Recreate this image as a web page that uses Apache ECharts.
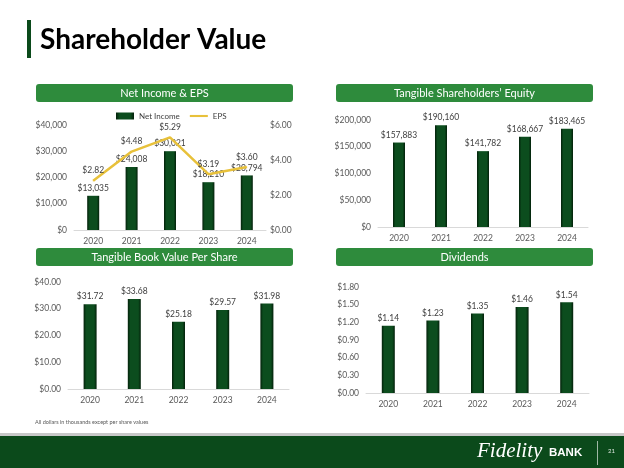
<!DOCTYPE html>
<html>
<head>
<meta charset="utf-8">
<script src="https://cdn.jsdelivr.net/npm/echarts@6.0.0/dist/echarts.min.js"></script>
<style>
html, body { margin: 0; padding: 0; background: #fff; }
#chart { width: 624px; height: 468px; }
</style>
</head>
<body>
<div id="chart"></div>
<script>
"use strict";
const years = ["2020", "2021", "2022", "2023", "2024"];
const netIncome = [13035, 24008, 30021, 18210, 20794];
const eps = [2.82, 4.48, 5.29, 3.19, 3.60];
const equity = [157883, 190160, 141782, 168667, 183465];
const tbvps = [31.72, 33.68, 25.18, 29.57, 31.98];
const dividends = [1.14, 1.23, 1.35, 1.46, 1.54];

const FONT = "Lato, 'Open Sans', sans-serif";
const headerGreen = "#2e8b3c";
const labelGrey = "#595959";
const money0 = (v) => "$" + Math.round(v).toLocaleString("en-US");
const money2 = (v) => "$" + Number(v).toFixed(2);

const barFill = {
    type: "linear", x: 0, y: 0, x2: 1, y2: 0,
    colorStops: [
        { offset: 0, color: "#03200a" },
        { offset: 0.2, color: "#0c4d1e" },
        { offset: 0.8, color: "#0c4d1e" },
        { offset: 1, color: "#03200a" },
    ],
};

const grids = [
    { left: 74, top: 125, width: 192, height: 105 },
    { left: 378, top: 120, width: 210, height: 107 },
    { left: 68, top: 282, width: 221, height: 107 },
    { left: 366, top: 287, width: 223, height: 106 },
];

const xAxes = grids.map((g, i) => ({
    type: "category",
    gridIndex: i,
    data: years,
    axisLine: { lineStyle: { color: "#d9d9d9", width: 1 } },
    axisTick: { show: false },
    axisLabel: { color: labelGrey, fontSize: 8.5, fontFamily: FONT, margin: 7 },
}));

const yBase = (i, max, interval, fmt, pos) => ({
    type: "value",
    gridIndex: i,
    min: 0,
    max,
    interval,
    position: pos || "left",
    splitLine: { show: false },
    axisLine: { show: false },
    axisTick: { show: false },
    axisLabel: { color: labelGrey, fontSize: 8.5, fontFamily: FONT, formatter: fmt, margin: pos === "right" ? 4 : 7 },
});

const yAxes = [
    yBase(0, 40000, 10000, money0),
    yBase(0, 6, 2, money2, "right"),
    yBase(1, 200000, 50000, money0),
    yBase(2, 40, 10, money2),
    yBase(3, 1.8, 0.3, money2),
];

const barSeries = (name, data, xi, yi, fmt, width) => ({
    name,
    type: "bar",
    xAxisIndex: xi,
    yAxisIndex: yi,
    data,
    barWidth: width,
    itemStyle: { color: barFill },
    label: {
        show: true,
        position: "top",
        distance: 3,
        color: "#404040",
        fontSize: 8.5,
        fontFamily: FONT,
        formatter: (p) => fmt(p.value),
    },
    z: 2,
});

const header = (x, y, w, text) => [
    { type: "rect", shape: { x, y, width: w, height: 18, r: 3 }, style: { fill: headerGreen } },
    {
        type: "text",
        x: x + w / 2,
        y: y + 9,
        style: { text, fill: "#fff", fontSize: 11, fontFamily: FONT, align: "center", verticalAlign: "middle" },
    },
];

const chart = echarts.init(document.getElementById("chart"), null, { renderer: "canvas" });
chart.setOption({
    animation: false,
    textStyle: { fontFamily: FONT },
    grid: grids,
    xAxis: xAxes,
    yAxis: yAxes,
    legend: {
        left: 111,
        top: 107,
        itemWidth: 18,
        itemHeight: 7,
        itemGap: 10,
        textStyle: { color: "#404040", fontSize: 8, fontFamily: FONT },
        data: [
            { name: "Net Income", icon: "rect" },
            { name: "EPS", icon: "path://M0,0 L30,0 L30,3.5 L0,3.5 Z" },
        ],
    },
    series: [
        barSeries("Net Income", netIncome, 0, 0, money0, 12),
        {
            name: "EPS",
            type: "line",
            xAxisIndex: 0,
            yAxisIndex: 1,
            data: eps,
            symbol: "circle",
            symbolSize: 1,
            showSymbol: true,
            lineStyle: { color: "#e8c13a", width: 2.5 },
            itemStyle: { color: "#e8c13a" },
            label: {
                show: true,
                position: "top",
                distance: 5,
                color: "#404040",
                fontSize: 8.5,
                fontFamily: FONT,
                formatter: (p) => money2(p.value),
            },
            z: 3,
        },
        barSeries("Equity", equity, 1, 2, money0, 12),
        barSeries("TBVPS", tbvps, 2, 3, money2, 13),
        barSeries("Dividends", dividends, 3, 4, money2, 13),
    ],
    graphic: [
        { type: "rect", shape: { x: 27, y: 20, width: 4, height: 38 }, style: { fill: "#0b4a1b" } },
        {
            type: "text",
            x: 40,
            y: 40,
            style: { text: "Shareholder Value", fill: "#000", fontSize: 28, fontWeight: "bold", fontFamily: FONT, verticalAlign: "middle" },
        },
        ...header(36, 84, 257, "Net Income & EPS"),
        ...header(336, 84, 257, "Tangible Shareholders\u2019 Equity"),
        ...header(36, 248, 257, "Tangible Book Value Per Share"),
        ...header(336, 248, 257, "Dividends"),
        {
            type: "text",
            x: 35,
            y: 422,
            style: { text: "All dollars in thousands except per share values", fill: "#595959", fontSize: 5.5, fontFamily: FONT, verticalAlign: "middle" },
        },
        { type: "rect", shape: { x: 0, y: 433, width: 624, height: 3 }, style: { fill: "#c8c8c8" } },
        { type: "rect", shape: { x: 0, y: 436, width: 624, height: 32 }, style: { fill: "#0b4a1b" } },
        {
            type: "text",
            x: 477,
            y: 451,
            style: { text: "Fidelity", fill: "#fff", fontSize: 21, fontStyle: "italic", fontFamily: "'Liberation Serif', serif", verticalAlign: "middle" },
        },
        {
            type: "text",
            x: 549,
            y: 453,
            style: { text: "BANK", fill: "#fff", fontSize: 11.5, fontWeight: "bold", fontFamily: "'Liberation Sans', sans-serif", verticalAlign: "middle" },
        },
        { type: "rect", shape: { x: 597, y: 441, width: 1, height: 24 }, style: { fill: "#9fb8a5" } },
        {
            type: "text",
            x: 608,
            y: 451,
            style: { text: "21", fill: "#dfe8e0", fontSize: 6, fontFamily: FONT, verticalAlign: "middle" },
        },
    ],
});
</script>
</body>
</html>
